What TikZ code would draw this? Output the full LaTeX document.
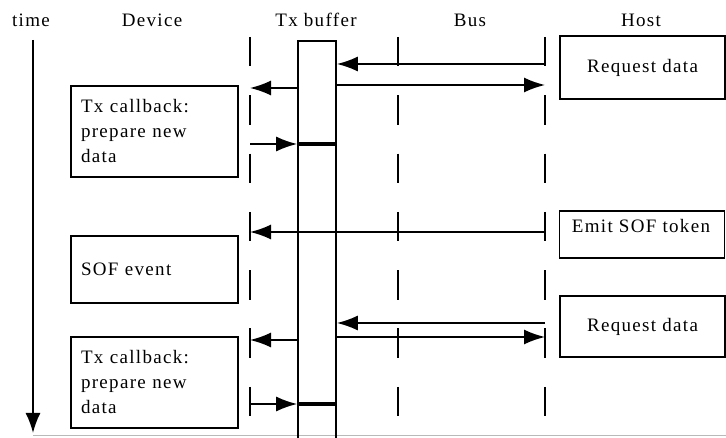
\documentclass[tikz,border=0pt]{standalone}
\usepackage{fontspec}
\setmainfont{Liberation Serif}[LetterSpace=7]
\usetikzlibrary{arrows.meta}

\begin{document}
\begin{tikzpicture}[x=1pt,y=-1pt,line width=1.7pt,
  txt/.style={font=\fontsize{19}{25}\selectfont,inner sep=0pt},
  head/.style={txt,anchor=base},
  devbox/.style={draw,txt,minimum width=167pt,inner xsep=10pt,
    text width=147pt,align=left},
  hostbox/.style={draw,txt,minimum width=165pt,align=center},
  lifeline/.style={dash pattern=on 29.5pt off 28.8pt},
  msg/.style={-{Latex[length=21pt,width=15pt]}},
  fill line/.style={line width=3.8pt},
]
\useasboundingbox (0,0) rectangle (726,438);
\clip (0,0) rectangle (726,438);

% column headings
\node[head] (hTime) at (31,27) {time};
\node[head] (hDev)  at (152,27) {Device};
\node[head] (hBuf)  at (316,27) {Tx buffer};
\node[head] (hBus)  at (470,27) {Bus};
\node[head] (hHost) at (641,27) {Host};

% time axis
\coordinate (tTop) at (33,40);
\coordinate (tBot) at (33,433);
\draw[-{Latex[length=20pt,width=15pt]}] (tTop) -- (tBot);

% bottom edge
\coordinate (eL) at (33,435.5);
\coordinate (eR) at (726,435.5);
\draw[gray!55,line width=1pt] (eL) -- (eR);

% lifelines
\coordinate (devTop)  at (250,37);  \coordinate (devBot)  at (250,438);
\coordinate (busTop)  at (398,37);  \coordinate (busBot)  at (398,438);
\coordinate (hostTop) at (545,37);  \coordinate (hostBot) at (545,438);
\draw[lifeline] (devTop) -- (devBot);
\draw[lifeline] (busTop) -- (busBot);
\draw[lifeline] (hostTop) -- (hostBot);

% transmit buffer column
\node[draw,minimum width=38pt,minimum height=430pt,anchor=north,inner sep=0pt]
  (txbuf) at (317,40) {};

% device activities
\node[devbox,minimum height=91pt] (cb1) at (154.5,131.5)
  {Tx callback:\\prepare new\\data};
\node[devbox,minimum height=67pt] (sofev) at (154.5,269.5) {SOF event};
\node[devbox,minimum height=91pt] (cb2) at (154.5,382.5)
  {Tx callback:\\prepare new\\data};

% host activities
\node[hostbox,minimum height=63pt] (req1) at (642.5,67.5) {Request data};
\node[hostbox,minimum height=47pt] (emit) at (642,234.5) {};
\node[head] (emitTxt) at (641,233) {Emit SOF token};
\node[hostbox,minimum height=61pt] (req2) at (642.5,326.5) {Request data};

% message rows
\coordinate (r1) at (0,64);
\coordinate (r2) at (0,85);
\coordinate (r3) at (0,88);
\coordinate (r4) at (0,144);
\coordinate (r5) at (0,232);
\coordinate (r6) at (0,323);
\coordinate (r7) at (0,337);
\coordinate (r8) at (0,340);
\coordinate (r9) at (0,404);

% first transfer
\draw[msg] (hostTop |- r1) -- (txbuf.east |- r1);
\draw[msg] (txbuf.east |- r2) -- (hostTop |- r2);
\draw[msg] (txbuf.west |- r3) -- (devTop |- r3);
\draw[msg] (devTop |- r4) -- (txbuf.west |- r4);
\draw[fill line] (txbuf.west |- r4) -- (txbuf.east |- r4);

% start of frame
\draw[msg] (hostTop |- r5) -- (devTop |- r5);

% second transfer
\draw[msg] (hostTop |- r6) -- (txbuf.east |- r6);
\draw[msg] (txbuf.east |- r7) -- (hostTop |- r7);
\draw[msg] (txbuf.west |- r8) -- (devTop |- r8);
\draw[msg] (devTop |- r9) -- (txbuf.west |- r9);
\draw[fill line] (txbuf.west |- r9) -- (txbuf.east |- r9);
\end{tikzpicture}
\end{document}
